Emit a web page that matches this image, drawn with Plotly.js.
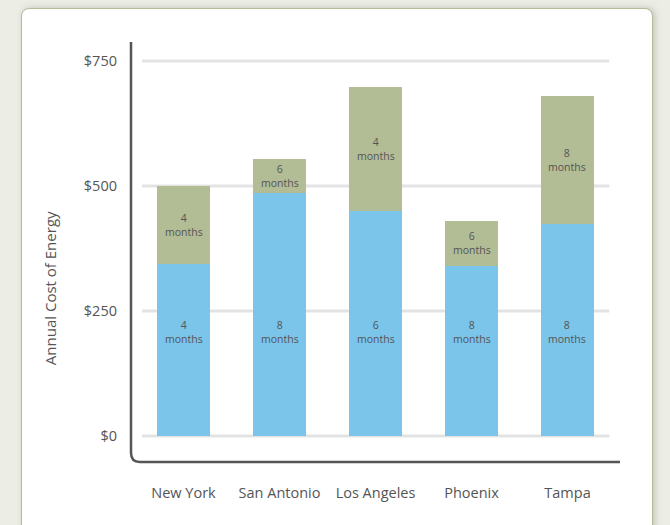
<!DOCTYPE html>
<html>
<head>
<meta charset="utf-8">
<script src="https://cdn.plot.ly/plotly-3.0.1.min.js"></script>
<style>
  html, body { margin:0; padding:0; width:670px; height:525px; overflow:hidden; background:#eceee6; }
  #card { position:absolute; left:21px; top:8px; width:630px; height:530px; background:#fff;
          border:1px solid #b4bb96; border-radius:8px; box-shadow: 2px 0 6px rgba(150,155,135,0.5); }
  #chart { position:absolute; left:0; top:0; width:670px; height:525px; }
</style>
</head>
<body>
<div id="card"></div>
<div id="chart"></div>
<script>
const cities = ["New York", "San Antonio", "Los Angeles", "Phoenix", "Tampa"];
const baseCost = [344, 486, 450, 340, 424];
const extraCost = [156, 68, 248, 91, 256];
const baseMonths = ["4", "8", "6", "8", "8"];
const extraMonths = ["4", "6", "4", "6", "8"];
const tickVals = [0, 250, 500, 750];
const tickText = ["$0", "$250", "$500", "$750"];
const yTitle = "Annual Cost of Energy";

const blue = "#7bc4ea", green = "#b2bc95", txt = "#555555";
const font = "Open Sans, Noto Sans, sans-serif";

const traces = [
  { type: "bar", x: cities, y: baseCost, marker: { color: blue }, hoverinfo: "skip" },
  { type: "bar", x: cities, y: extraCost, marker: { color: green }, hoverinfo: "skip" }
];

const shapes = tickVals.map(v => ({
  type: "line", xref: "paper", yref: "y", x0: 0.0225, x1: 0.978, y0: v, y1: v,
  line: { color: "#e3e3e3", width: 3 }, layer: "below"
}));
shapes.push({
  type: "path", xref: "paper", yref: "paper",
  path: "M 0,1 L 0,0.022 Q 0,0 0.018,0 L 1,0",
  line: { color: "#555555", width: 2.5 }
});

const annotations = [];
cities.forEach((c, i) => {
  annotations.push({ x: c, y: 208, xref: "x", yref: "y", text: baseMonths[i] + "<br>months",
    showarrow: false, font: { family: font, size: 10.5, color: txt } });
  annotations.push({ x: c, y: baseCost[i] + extraCost[i] / 2, xref: "x", yref: "y",
    text: extraMonths[i] + "<br>months", showarrow: false, font: { family: font, size: 10.5, color: txt } });
});
annotations.push({ xref: "paper", yref: "paper", x: -0.1656, y: 0.414, xanchor: "center", yanchor: "middle",
  text: yTitle, textangle: -90, showarrow: false, font: { family: font, size: 15, color: txt } });

const layout = {
  width: 670, height: 525,
  margin: { l: 131, r: 50, t: 42, b: 63 },
  paper_bgcolor: "rgba(0,0,0,0)", plot_bgcolor: "rgba(0,0,0,0)",
  barmode: "stack", bargap: 0.448, showlegend: false,
  font: { family: font, color: txt },
  xaxis: { range: [-0.547, 4.547], showgrid: false, zeroline: false, showline: false,
           ticks: "", tickfont: { family: font, size: 14.5, color: txt }, ticklabelstandoff: 20 },
  yaxis: { range: [-52, 788], tickvals: tickVals, ticktext: tickText, showgrid: false,
           zeroline: false, showline: false, ticks: "", ticklabelstandoff: 13,
           tickfont: { family: font, size: 14.5, color: txt } },
  shapes: shapes,
  annotations: annotations
};

Plotly.newPlot("chart", traces, layout, { staticPlot: true, displayModeBar: false });
</script>
</body>
</html>
